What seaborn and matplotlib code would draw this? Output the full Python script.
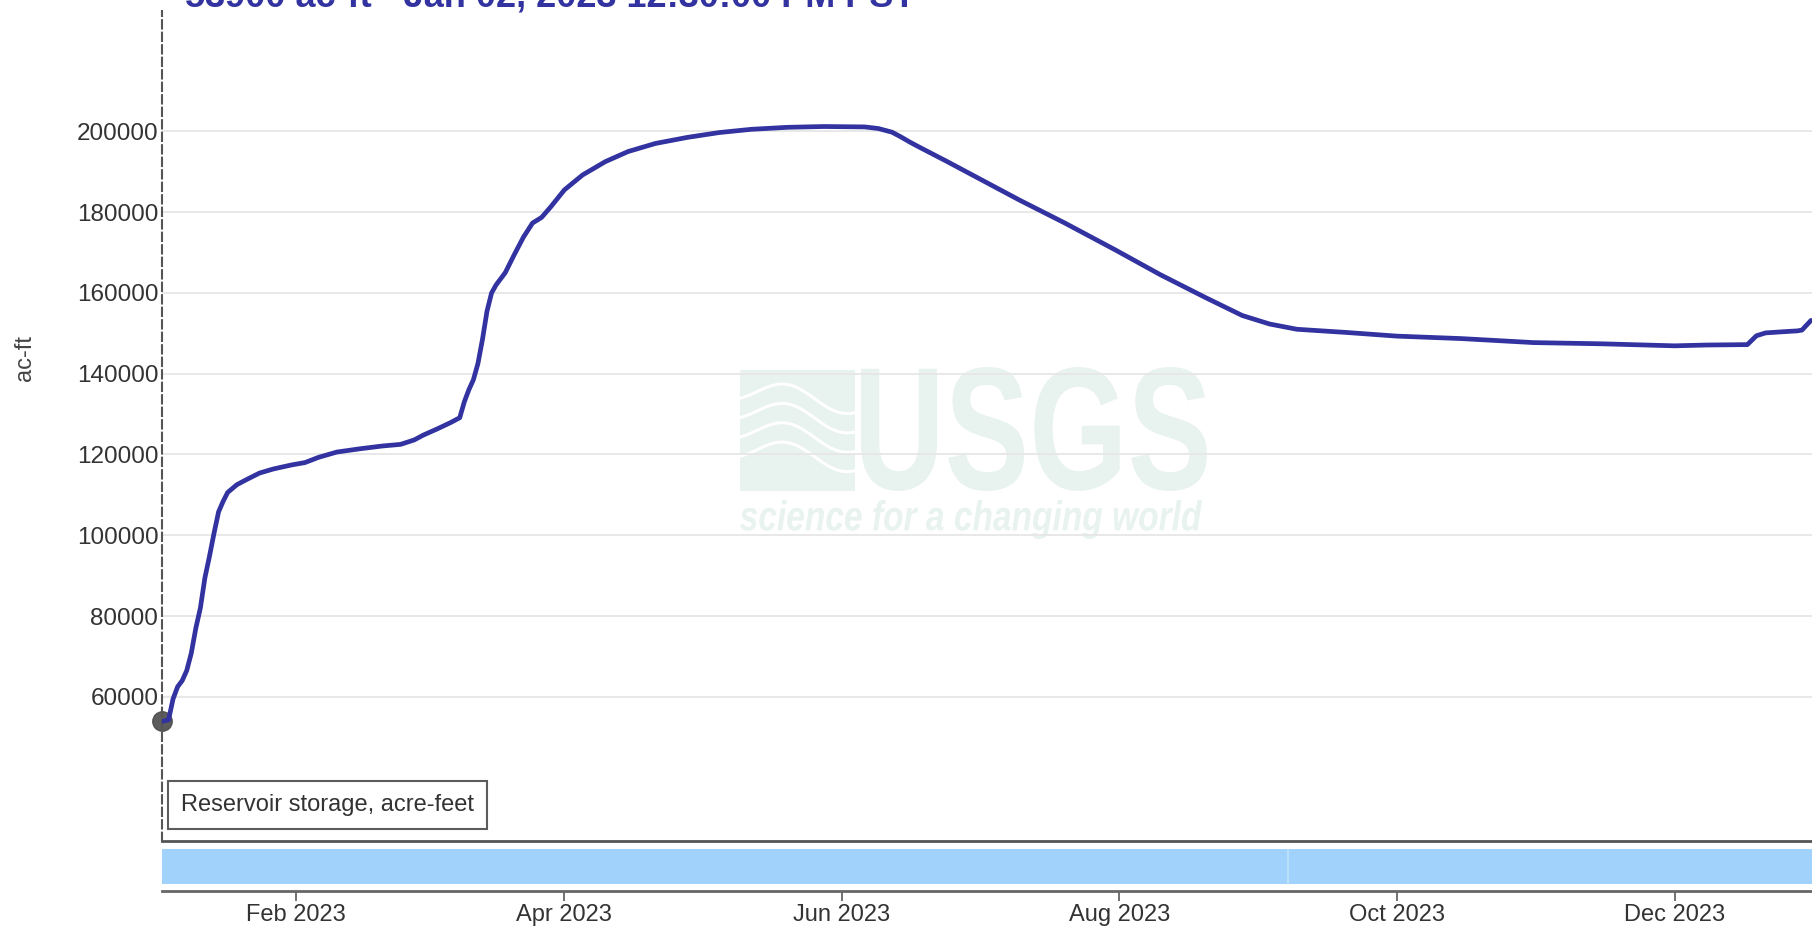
import matplotlib
matplotlib.use("Agg")
import matplotlib.pyplot as plt
import numpy as np
import pandas as pd
import seaborn as sns
from matplotlib.font_manager import FontProperties
from matplotlib.patches import PathPatch, Rectangle
from matplotlib.textpath import TextPath
from matplotlib.transforms import Affine2D, IdentityTransform

# reservoir storage
DATES = [
    "2023-01-02 12:30", "2023-01-04", "2023-01-05", "2023-01-06", "2023-01-07",
    "2023-01-08", "2023-01-09", "2023-01-10", "2023-01-11", "2023-01-12",
    "2023-01-13", "2023-01-14", "2023-01-15", "2023-01-16", "2023-01-17",
    "2023-01-19", "2023-01-21", "2023-01-24", "2023-01-27", "2023-01-31",
    "2023-02-03", "2023-02-06", "2023-02-10", "2023-02-15", "2023-02-20",
    "2023-02-24", "2023-02-27", "2023-03-01", "2023-03-04", "2023-03-07",
    "2023-03-09", "2023-03-10", "2023-03-11", "2023-03-12", "2023-03-13",
    "2023-03-14", "2023-03-15", "2023-03-16", "2023-03-17", "2023-03-19",
    "2023-03-21", "2023-03-23", "2023-03-25", "2023-03-27", "2023-03-29",
    "2023-04-01", "2023-04-05", "2023-04-10", "2023-04-15", "2023-04-21",
    "2023-04-28", "2023-05-05", "2023-05-12", "2023-05-20", "2023-05-28",
    "2023-06-06", "2023-06-09", "2023-06-12", "2023-06-14", "2023-06-16",
    "2023-06-18", "2023-06-24", "2023-07-01", "2023-07-10", "2023-07-20",
    "2023-07-31", "2023-08-10", "2023-08-20", "2023-08-28", "2023-09-03",
    "2023-09-09", "2023-09-20", "2023-10-01", "2023-10-15", "2023-10-31",
    "2023-11-15", "2023-12-01", "2023-12-08", "2023-12-17", "2023-12-19",
    "2023-12-21", "2023-12-25", "2023-12-28", "2023-12-29", "2023-12-31",
]
STORAGE = [
    53900, 54300, 59500, 62500, 64000,
    66500, 70800, 77000, 82000, 89500,
    94800, 100500, 105800, 108400, 110600,
    112500, 113700, 115400, 116400, 117400,
    118000, 119300, 120600, 121400, 122100,
    122500, 123600, 124800, 126300, 127900,
    129100, 133000, 136000, 138500, 142500,
    148500, 155500, 160000, 162000, 165000,
    169500, 173800, 177300, 178700, 181300,
    185500, 189200, 192500, 195000, 197000,
    198500, 199700, 200500, 201000, 201200,
    201100, 200700, 199800, 198600, 197300,
    196100, 192600, 188400, 183000, 177300,
    170700, 164500, 158800, 154400, 152300,
    151000, 150200, 149300, 148700, 147700,
    147400, 146900, 147100, 147200, 149400,
    150100, 150400, 150600, 150800, 153200,
]

X_START = "2023-01-02 12:30"
X_END = "2023-12-31 05:00"
Y_LIMITS = (24300, 229800)
Y_TICKS = [60000, 80000, 100000, 120000, 140000, 160000, 180000, 200000]
MONTH_TICKS = ["2023-02-01", "2023-04-01", "2023-06-01", "2023-08-01", "2023-10-01", "2023-12-01"]
MONTH_LABELS = ["Feb 2023", "Apr 2023", "Jun 2023", "Aug 2023", "Oct 2023", "Dec 2023"]
NAV_BREAK = "2023-09-07"

TITLE = "53900 ac-ft - Jan 02, 2023 12:30:00 PM PST"
SERIES_LABEL = "Reservoir storage, acre-feet"
Y_LABEL = "ac-ft"

LINE_COLOR = "#3232a0"
WATERMARK = "#e8f2ef"
W, H = 1812, 930


def fitted_text(ax, text, box, prop):
    # squeeze a text outline into a pixel box (left, top, right, bottom from top-left)
    path = TextPath((0, 0), text, size=100, prop=prop)
    ext = path.get_extents()
    x0, top, x1, bottom = box
    tr = (Affine2D().translate(-ext.x0, -ext.y0)
          .scale((x1 - x0) / ext.width, (bottom - top) / ext.height)
          .translate(x0, H - bottom))
    ax.add_patch(PathPatch(path, transform=tr, color=WATERMARK, lw=0, zorder=0.1))


def draw_watermark(ax):
    ax.add_patch(Rectangle((740, H - 491), 115, 121, transform=IdentityTransform(),
                           color=WATERMARK, lw=0, zorder=0.1))
    t = np.linspace(0, 1, 60)
    for c in (0.78, 0.62, 0.46, 0.30):
        wy = c + 0.09 * np.sin(2 * np.pi * (t - 0.15)) - 0.12 * (t - 0.5)
        ax.plot(740 + t * 115, H - 491 + np.clip(wy, 0.02, 0.98) * 121,
                transform=IdentityTransform(), color="white", lw=2.2, zorder=0.15)
    bold = FontProperties(family="Liberation Sans", weight="bold")
    bold_it = FontProperties(family="Liberation Sans", weight="bold", style="italic")
    fitted_text(ax, "USGS", (861, 367, 1207, 491), bold)
    fitted_text(ax, "science for a changing world", (740, 500, 1202, 539), bold_it)


def main() -> None:
    sns.set_theme(style="white")
    plt.rcParams["font.family"] = ["Liberation Sans", "DejaVu Sans"]

    df = pd.DataFrame({"date": pd.to_datetime(DATES, format="ISO8601"), "storage": STORAGE})
    x0, x1 = pd.Timestamp(X_START), pd.Timestamp(X_END)

    fig = plt.figure(figsize=(W / 100, H / 100), dpi=100)
    left = 161.8 / W
    ax = fig.add_axes([left, 1 - 841 / H, 1 - left, (841 - 11) / H])
    nav = fig.add_axes([left, 1 - 891 / H, 1 - left, (891 - 849) / H])

    draw_watermark(ax)

    sns.lineplot(data=df, x="date", y="storage", ax=ax, color=LINE_COLOR,
                 linewidth=3.4, label=SERIES_LABEL, zorder=3)
    ax.plot(df["date"].iloc[0], df["storage"].iloc[0], "o", ms=14, color="#4a4a4a",
            alpha=0.9, zorder=2.5, clip_on=False)

    ax.set_xlim(x0, x1)
    ax.set_ylim(*Y_LIMITS)
    ax.set_yticks(Y_TICKS)
    ax.set_yticklabels([str(v) for v in Y_TICKS])
    ax.set_xticks([])
    ax.set_xlabel("")
    ax.set_ylabel("")
    ax.set_axisbelow(True)
    ax.grid(axis="y", color="#e6e6e6", lw=1.3)
    ax.tick_params(axis="y", length=0, pad=2.5, labelsize=17.5, labelcolor="#333333")
    for side in ("top", "right"):
        ax.spines[side].set_visible(False)
    ax.spines["left"].set_color("#555555")
    ax.spines["left"].set_linestyle((0, (4, 2)))
    ax.spines["left"].set_linewidth(1.5)
    ax.spines["bottom"].set_color("#555555")
    ax.spines["bottom"].set_linewidth(2)

    leg = ax.legend(loc="lower left", bbox_to_anchor=(6 / 1650, 12 / 830), borderaxespad=0,
                    handlelength=0, handletextpad=0, fancybox=False, frameon=True,
                    fontsize=17, borderpad=0.55)
    leg.get_frame().set_edgecolor("#333333")
    leg.get_frame().set_linewidth(1.5)
    for h in leg.legend_handles:
        h.set_visible(False)
    for txt in leg.get_texts():
        txt.set_color("#333333")

    # navigator strip
    nav.set_xlim(x0, x1)
    nav.set_ylim(0, 1)
    nav.axvspan(x0, x1, ymin=7 / 42, ymax=1, color="#a1d2fb", lw=0)
    nav.axvline(pd.Timestamp(NAV_BREAK), ymin=7 / 42, ymax=1, color="#c2e2fc", lw=1.2)
    nav.set_xticks(pd.to_datetime(MONTH_TICKS))
    nav.set_xticklabels(MONTH_LABELS)
    nav.set_yticks([])
    for side in ("top", "right", "left"):
        nav.spines[side].set_visible(False)
    nav.spines["bottom"].set_color("#666666")
    nav.spines["bottom"].set_linewidth(2)
    nav.tick_params(axis="x", bottom=True, length=7.5, width=1.3, color="#666666",
                    pad=1.5, labelsize=17, labelcolor="#333333")

    fig.text(185 / W, 1 - 6 / H, TITLE, ha="left", va="baseline", fontsize=26,
             fontweight="bold", color=LINE_COLOR)
    fig.text(25 / W, 1 - 358 / H, Y_LABEL, rotation=90, ha="center", va="center",
             fontsize=17, color="#444444")

    fig.savefig("out.png", dpi=100)
    plt.close(fig)


if __name__ == "__main__":
    main()
